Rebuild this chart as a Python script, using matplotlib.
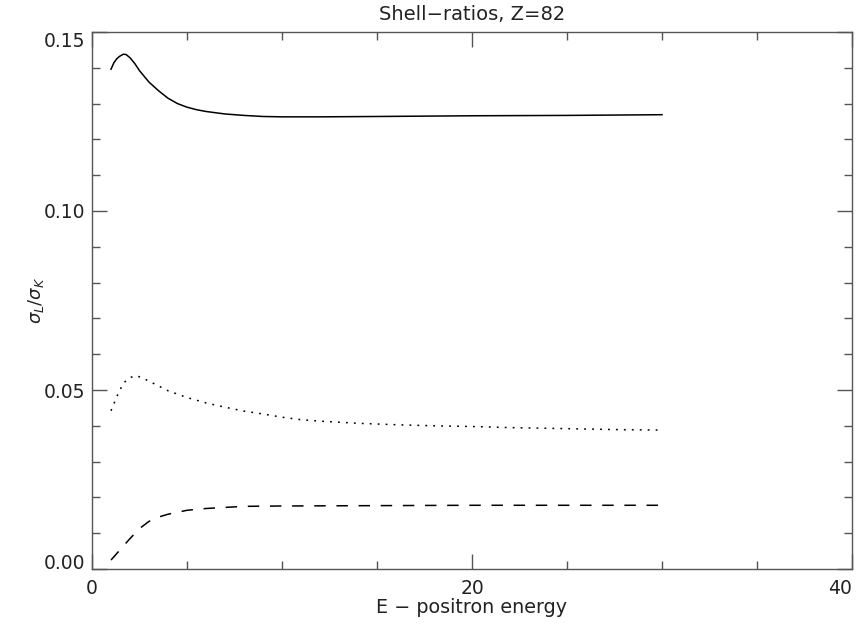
import matplotlib.pyplot as plt
from matplotlib.ticker import MultipleLocator

# shell ratio curves vs positron energy, Z=82
e_solid = [1.0, 1.15, 1.3, 1.45, 1.65, 1.8, 2.0, 2.25, 2.5, 3.0, 3.5, 4.0,
           4.5, 5.0, 5.5, 6.0, 7.0, 8.0, 9.0, 10.0, 12.0, 15.0, 20.0, 25.0,
           30.0]
r_solid = [0.1396, 0.1414, 0.1425, 0.1432, 0.1438, 0.1437, 0.1428, 0.1412,
           0.1392, 0.1360, 0.1336, 0.1315, 0.1300, 0.1290, 0.1283, 0.1278,
           0.1271, 0.1267, 0.1264, 0.1263, 0.1263, 0.1264, 0.1266, 0.1267,
           0.1269]

e_dot = [1.0, 1.3, 1.65, 2.0, 2.35, 2.8, 3.4, 4.0, 5.0, 6.0, 7.0, 8.0, 9.0,
         10.0, 11.0, 12.0, 14.0, 16.0, 18.0, 20.0, 22.0, 25.0, 28.0, 30.0]
r_dot = [0.0442, 0.0481, 0.0519, 0.0535, 0.0540, 0.0530, 0.0514, 0.0498,
         0.0479, 0.0464, 0.0452, 0.0441, 0.0433, 0.0424, 0.0417, 0.0413,
         0.0407, 0.0403, 0.0400, 0.0398, 0.0395, 0.0392, 0.0389, 0.0388]

e_dash = [1.0, 1.5, 2.0, 2.5, 3.0, 3.5, 4.0, 5.0, 6.0, 7.0, 8.0, 10.0,
          15.0, 20.0, 25.0, 30.0]
r_dash = [0.0025, 0.0055, 0.0085, 0.0113, 0.0133, 0.0145, 0.0153, 0.0164,
          0.0169, 0.0172, 0.0175, 0.0176, 0.0177, 0.0178, 0.0178, 0.0178]

x_ticks = [0, 20, 40]
y_ticks = [0.00, 0.05, 0.10, 0.15]

txt = '#222222'
axc = '#555555'

fig = plt.figure(figsize=(8.64, 6.29), dpi=100)
ax = fig.add_axes([92 / 864, 1 - 569 / 629, 760 / 864, 537 / 629])

ax.plot(e_solid, r_solid, color='black', lw=1.1)
ax.plot(e_dot, r_dot, color='black', lw=1.1, dashes=(1.2, 4.0))
ax.plot(e_dash, r_dash, color='black', lw=1.1, dashes=(7.5, 7.0))

ax.set_xlim(0, 40)
ax.set_ylim(0, 0.15)
ax.set_xticks(x_ticks)
ax.set_yticks(y_ticks)
ax.set_xticklabels([str(v) for v in x_ticks])
ax.set_yticklabels(['%.2f' % v for v in y_ticks])
ax.xaxis.set_minor_locator(MultipleLocator(5))
ax.yaxis.set_minor_locator(MultipleLocator(0.01))

ax.tick_params(which='both', direction='in', top=True, right=True,
               color=axc, width=1.0, labelsize=13.5, labelcolor=txt)
ax.tick_params(which='major', length=11)
ax.tick_params(which='minor', length=5.5)
ax.tick_params(axis='x', pad=7)
ax.tick_params(axis='y', pad=5)
for s in ax.spines.values():
    s.set_color(axc)
    s.set_linewidth(1.0)

# end labels sit inside the axis range
ylabs = ax.get_yticklabels()
ylabs[0].set_va('baseline')
ylabs[-1].set_va('top')
ax.get_xticklabels()[-1].set_ha('right')

ax.set_title('Shell\u2212ratios, Z=82', fontsize=14, color=txt, pad=9)
ax.set_xlabel('E \u2212 positron energy', fontsize=13.8, color=txt, labelpad=0)
ax.set_ylabel(r'$\sigma_L/\sigma_K$', fontsize=13, color=txt, labelpad=-2)

fig.savefig('out.png', dpi=100)
